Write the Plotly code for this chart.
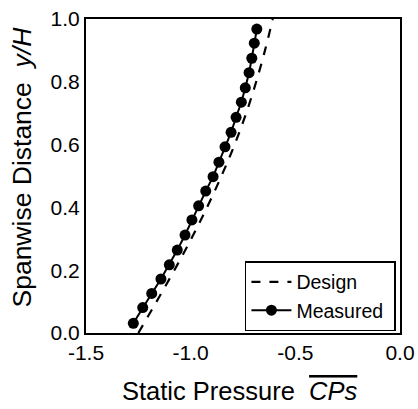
import plotly.graph_objects as go

# Design curve (static pressure vs spanwise distance)
design_y = [0.0, 0.1, 0.2, 0.3, 0.4, 0.5, 0.6, 0.7, 0.8, 0.9, 1.0]
design_cp = [-1.250, -1.163, -1.078, -0.997, -0.922, -0.853, -0.790, -0.735, -0.687, -0.645, -0.608]

# Measured values
meas_y = [0.031, 0.081, 0.126, 0.172, 0.217, 0.264, 0.312, 0.360, 0.405, 0.452, 0.498,
          0.544, 0.593, 0.639, 0.687, 0.735, 0.781, 0.829, 0.875, 0.923, 0.968]
meas_cp = [-1.274, -1.229, -1.186, -1.142, -1.102, -1.064, -1.027, -0.994, -0.962, -0.928, -0.893,
           -0.865, -0.836, -0.807, -0.783, -0.758, -0.739, -0.721, -0.708, -0.696, -0.684]

x_ticks = [-1.5, -1.0, -0.5, 0.0]
y_ticks = [0.0, 0.2, 0.4, 0.6, 0.8, 1.0]

x_title = "Static Pressure  <i><span style=\"text-decoration:overline\">CPs</span></i>"
y_title = "Spanwise Distance  <i>y/H</i>"

fig = go.Figure()
fig.add_trace(go.Scatter(x=design_cp, y=design_y, mode="lines", name="Design",
                         line=dict(color="black", width=2.2, dash="dash", shape="spline")))
fig.add_trace(go.Scatter(x=meas_cp, y=meas_y, mode="lines+markers", name="Measured ",
                         line=dict(color="black", width=2),
                         marker=dict(color="black", size=11)))

font = "Liberation Sans, Arial, sans-serif"
fig.update_layout(
    template="none",
    width=418, height=409,
    margin=dict(l=86, r=18, t=19, b=76),
    paper_bgcolor="white", plot_bgcolor="white",
    font=dict(family=font, color="black", size=19),
    showlegend=True,
    legend=dict(x=0.987, y=0.006, xanchor="right", yanchor="bottom",
                bordercolor="black", borderwidth=1.5, bgcolor="white",
                font=dict(size=19.5, color="black", family=font), tracegroupgap=0, itemwidth=40),
    xaxis=dict(range=[-1.5, 0.0], tickvals=x_ticks,
               ticktext=["%.1f" % v for v in x_ticks],
               showgrid=False, zeroline=False, showline=True, linecolor="black",
               linewidth=2, mirror=True, ticks="", ticklen=0,
               tickfont=dict(size=21, color="black", family=font)),
    yaxis=dict(range=[0.0, 1.0], tickvals=y_ticks,
               ticktext=["%.1f" % v for v in y_ticks],
               showgrid=False, zeroline=False, showline=True, linecolor="black",
               linewidth=2, mirror=True, ticks="", ticklen=0,
               tickfont=dict(size=21, color="black", family=font)),
    annotations=[
        dict(text=x_title, xref="paper", yref="paper", x=0.5, y=0, xanchor="center",
             yanchor="middle", yshift=-58, xshift=-3, showarrow=False,
             font=dict(size=25.5, color="black", family=font)),
        dict(text=y_title, xref="paper", yref="paper", x=0, y=0.527, xanchor="center",
             yanchor="middle", xshift=-64, textangle=-90, showarrow=False,
             font=dict(size=26.5, color="black", family=font)),
    ],
)

fig.write_html("out.html", config={"displayModeBar": False},
               post_script="document.body.style.margin='0';document.body.style.overflow='hidden';")
